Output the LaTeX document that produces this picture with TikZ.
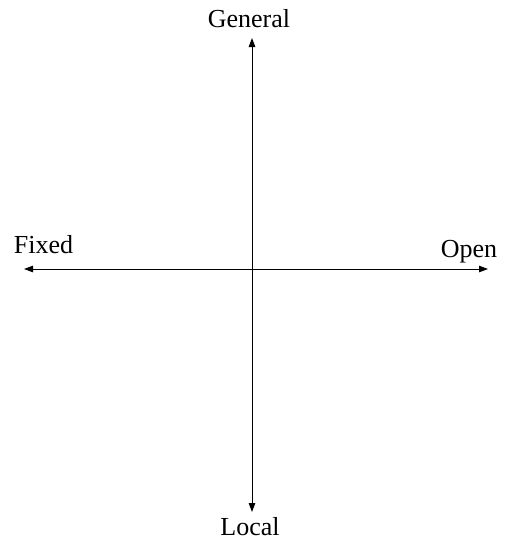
\documentclass[tikz,border=0pt]{standalone}
\usepackage{fontspec}
\setmainfont{Liberation Serif}
\usetikzlibrary{arrows.meta}
\begin{document}
\begin{tikzpicture}[x=1pt,y=-1pt,
  axis/.style={line width=1pt,{Triangle[length=9pt,width=6.5pt]}-{Triangle[length=9pt,width=6.5pt]}},
  lbl/.style={font=\fontsize{26}{31}\selectfont, inner sep=0pt, anchor=base}]
\useasboundingbox (0,0) rectangle (511,541);
\coordinate (top) at (252,38);
\coordinate (bot) at (252,512);
\coordinate (left) at (24,269);
\coordinate (right) at (488,269);
\draw[axis] (top) -- (bot);
\draw[axis] (left) -- (right);
\node[lbl] (general) at (249,27) {General};
\node[lbl] (fixed) at (43.5,253) {Fixed};
\node[lbl] (open) at (469,257) {Open};
\node[lbl] (local) at (250,535) {Local};
\end{tikzpicture}
\end{document}
